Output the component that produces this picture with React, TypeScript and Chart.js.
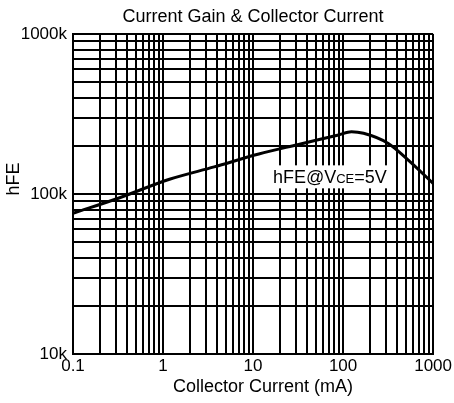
import React, { useEffect, useRef } from 'react';
import { Chart, registerables } from 'chart.js';

Chart.register(...registerables);

// ---- data ----
const currentMA = [0.1, 0.33, 1.18, 3.7, 11.6, 32, 89, 124, 169, 318, 530, 1000];
const hfeValues = [75700, 94800, 123600, 147700, 177800, 204000, 234000, 245000, 239500, 207000, 163000, 116600];

const xDecades = [0.1, 1, 10, 100, 1000];
const xDecadeLabels = ['0.1', '1', '10', '100', '1000'];
const yDecades = [10000, 100000, 1000000];
const yDecadeLabels = ['10k', '100k', '1000k'];
const minorMultipliers = [1, 2, 3, 4, 5, 6, 7, 8, 9];

const titleText = 'Current Gain & Collector Current';
const xTitleText = 'Collector Current (mA)';
const yTitleText = 'hFE';
const annotationAnchor = { x: 15, y: 128000 };
const annotationParts: [string, number][] = [['hFE@V', 18], ['CE', 13], ['=5V', 18]];

const FONT = '"Liberation Sans", Arial, sans-serif';

function buildLogTicks(decades: number[]) {
  const out: { value: number }[] = [];
  decades.forEach((d, i) => {
    if (i === decades.length - 1) {
      out.push({ value: d });
      return;
    }
    minorMultipliers.forEach((m) => out.push({ value: +(d * m).toPrecision(6) }));
  });
  return out;
}

function labelFor(v: number, decades: number[], labels: string[]) {
  const i = decades.findIndex((d) => Math.abs(d - v) / d < 1e-6);
  return i >= 0 ? labels[i] : '';
}

const textPlugin = {
  id: 'customTexts',
  afterDraw(chart: any) {
    const { ctx, chartArea, scales } = chart;
    ctx.save();
    ctx.fillStyle = '#000';

    // y axis title
    ctx.font = `18px ${FONT}`;
    ctx.textAlign = 'center';
    ctx.textBaseline = 'middle';
    ctx.save();
    ctx.translate(chartArea.left - 59, (chartArea.top + chartArea.bottom) / 2 - 15);
    ctx.rotate(-Math.PI / 2);
    ctx.fillText(yTitleText, 0, 0);
    ctx.restore();

    // x axis title
    ctx.fillText(xTitleText, (chartArea.left + chartArea.right) / 2 + 10, chartArea.bottom + 33);

    // annotation
    const px = scales.x.getPixelForValue(annotationAnchor.x);
    const py = scales.y.getPixelForValue(annotationAnchor.y);
    let total = 0;
    annotationParts.forEach(([t, s]) => {
      ctx.font = `${s}px ${FONT}`;
      total += ctx.measureText(t).width;
    });
    ctx.fillStyle = '#fff';
    ctx.fillRect(px, py - 11.5, total + 8, 23);
    ctx.fillStyle = '#000';
    ctx.textAlign = 'left';
    ctx.textBaseline = 'alphabetic';
    let cx = px + 4;
    annotationParts.forEach(([t, s]) => {
      ctx.font = `${s}px ${FONT}`;
      ctx.fillText(t, cx, py + 6);
      cx += ctx.measureText(t).width;
    });
    ctx.restore();
  },
};

export default function App() {
  const ref = useRef<HTMLCanvasElement>(null);

  useEffect(() => {
    if (!ref.current) return;
    const chart = new Chart(ref.current, {
      type: 'line',
      data: {
        datasets: [
          {
            data: currentMA.map((x, i) => ({ x, y: hfeValues[i] })),
            borderColor: '#000',
            borderWidth: 3,
            pointRadius: 0,
            fill: false,
            tension: 0.3,
            cubicInterpolationMode: 'monotone',
          },
        ],
      },
      options: {
        animation: false,
        responsive: false,
        events: [],
        layout: { padding: { left: 0, right: 19, top: 0, bottom: 0 } },
        plugins: {
          legend: { display: false },
          tooltip: { enabled: false },
          title: {
            display: true,
            text: titleText,
            fullSize: false,
            color: '#000',
            font: { family: FONT, size: 18, weight: 'normal' },
            padding: { top: 6, bottom: 6.4 },
          },
        },
        scales: {
          x: {
            type: 'logarithmic',
            min: 0.1,
            max: 1000,
            afterBuildTicks: (scale: any) => {
              scale.ticks = buildLogTicks(xDecades);
            },
            afterFit: (scale: any) => {
              scale.height = 49;
            },
            ticks: {
              autoSkip: false,
              maxRotation: 0,
              minRotation: 0,
              padding: 2,
              color: '#000',
              font: { family: FONT, size: 17 },
              callback: (v: any) => labelFor(Number(v), xDecades, xDecadeLabels),
            },
            grid: { color: '#000', lineWidth: 2, drawTicks: false },
            border: { color: '#000', width: 2 },
          },
          y: {
            type: 'logarithmic',
            min: 10000,
            max: 1000000,
            afterBuildTicks: (scale: any) => {
              scale.ticks = buildLogTicks(yDecades);
            },
            afterFit: (scale: any) => {
              scale.width = 73;
            },
            ticks: {
              autoSkip: false,
              padding: 6,
              color: '#000',
              font: { family: FONT, size: 17 },
              callback: (v: any) => labelFor(Number(v), yDecades, yDecadeLabels),
            },
            grid: { color: '#000', lineWidth: 2, drawTicks: false },
            border: { color: '#000', width: 2 },
          },
        },
      } as any,
      plugins: [textPlugin],
    });
    return () => chart.destroy();
  }, []);

  return (
    <div style={{ position: 'fixed', left: 0, top: 0, width: 454, height: 403, background: '#fff' }}>
      <canvas ref={ref} width={454} height={403} style={{ display: 'block' }} />
    </div>
  );
}
